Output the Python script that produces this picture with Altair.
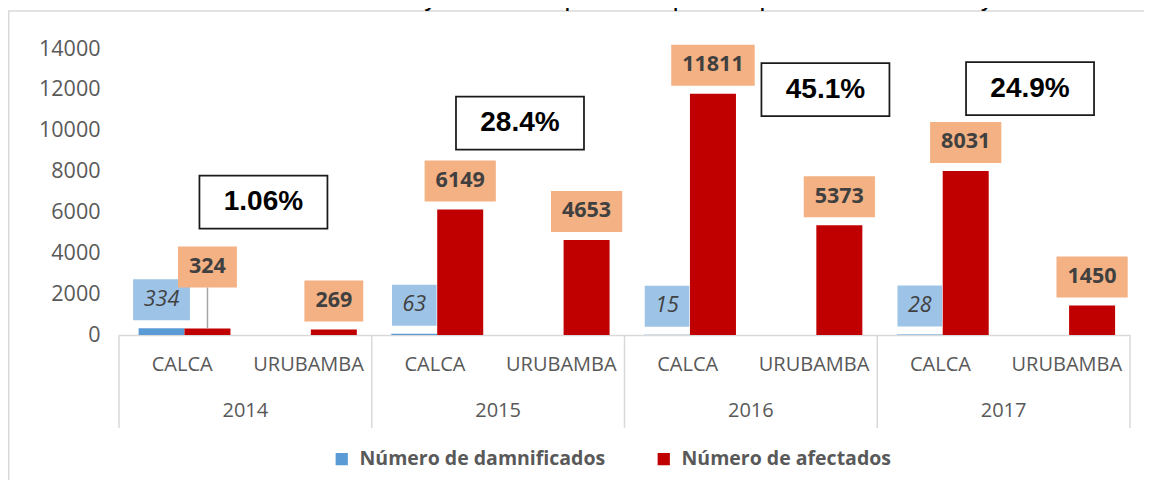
import altair as alt
import pandas as pd

# ---------------- data ----------------
years = ["2014", "2015", "2016", "2017"]
provinces = ["CALCA", "URUBAMBA"]
series = ["Número de damnificados", "Número de afectados"]
# one value per (year, province), in order 2014-CALCA, 2014-URUBAMBA, ...
damnificados = [334, None, 63, None, 15, None, 28, None]
afectados = [324, 269, 6149, 4653, 11811, 5373, 8031, 1450]
porcentajes = ["1.06%", "28.4%", "45.1%", "24.9%"]
y_ticks = [0, 2000, 4000, 6000, 8000, 10000, 12000, 14000]
title_lead = "Gráfico 3:"
title_text = "Número de damnificados y afectados por años para la provincia de Calca y Urubamba."

# ---------------- layout / style ----------------
W, H = 1011, 286
YMAX = 14000
NSLOT = len(years) * len(provinces)
UX = NSLOT / W          # x data units per pixel
UY = YMAX / H           # y data units per pixel
BLUE, RED = "#5B9BD5", "#C00000"
BLUE_LBL, RED_LBL = "#9DC3E6", "#F4B183"
TXT = "#404040"
AX = "#595959"
GRID = "#D9D9D9"
BLUE_X = (0.155, 0.518)
RED_X = (0.518, 0.882)
LBL_H = 41
LBL_GAP = 8
DIGIT_W = 12.3
raise_px = {0: 33}                       # 2014 CALCA afectados label lifted
pct_center_slot = [1.143, 3.173, 5.59, 7.209]   # annotation box placement
pct_center_px_from_top = [153, 74, 40.5, 39.5]
PCT_W, PCT_H = 128, 53

xs = alt.Scale(domain=[0, NSLOT], nice=False, zero=False)
ys = alt.Scale(domain=[0, YMAX], nice=False)
xa = alt.Axis(labels=False, ticks=False, grid=False, title=None, domainColor=GRID, domainWidth=1.5)
ya = alt.Axis(values=y_ticks, format="d", grid=False, domain=False, ticks=False, title=None,
              labelPadding=19, labelFont="Open Sans", labelFontSize=21.5, labelColor=AX)

# ---------------- frames ----------------
bar_rows, red_rows, blue_rows, lead_rows, cat_rows = [], [], [], [], []
for j, yr in enumerate(years):
    for k, pv in enumerate(provinces):
        i = j * len(provinces) + k
        cat_rows.append(dict(cx=i + 0.5, province=pv))
        d, a = damnificados[i], afectados[i]
        if d is not None:
            bar_rows.append(dict(series=series[0], value=d, base=0, x0=i + BLUE_X[0], x1=i + BLUE_X[1]))
            w = (DIGIT_W * len(str(d)) + 20) / 2 * UX
            cx = i + (BLUE_X[0] + BLUE_X[1]) / 2
            y0 = d + LBL_GAP * UY
            blue_rows.append(dict(label=str(d), cx=cx, bx0=cx - w, bx1=cx + w,
                                  by0=y0, by1=y0 + LBL_H * UY, ty=y0 + LBL_H / 2 * UY))
        bar_rows.append(dict(series=series[1], value=a, base=0, x0=i + RED_X[0], x1=i + RED_X[1]))
        w = (DIGIT_W * len(str(a)) + 22) / 2 * UX
        cx = i + (RED_X[0] + RED_X[1]) / 2
        y0 = a + (LBL_GAP + raise_px.get(i, 0)) * UY
        red_rows.append(dict(label=str(a), cx=cx, bx0=cx - w, bx1=cx + w,
                             by0=y0, by1=y0 + LBL_H * UY, ty=y0 + LBL_H / 2 * UY))
        if raise_px.get(i, 0):
            lead_rows.append(dict(cx=cx, y0=a, y1=y0))

bars_df = pd.DataFrame(bar_rows)
red_df = pd.DataFrame(red_rows)
blue_df = pd.DataFrame(blue_rows)
lead_df = pd.DataFrame(lead_rows)
cat_df = pd.DataFrame(cat_rows)
year_df = pd.DataFrame(dict(year=years, cx=[j * 2 + 1 for j in range(len(years))]))
div_df = pd.DataFrame(dict(x=[j * 2 for j in range(len(years) + 1)]))
pct_df = pd.DataFrame(dict(
    label=porcentajes,
    cx=pct_center_slot,
    cy=[(H - p) * UY for p in pct_center_px_from_top],
))
pct_df["bx0"] = pct_df.cx - PCT_W / 2 * UX
pct_df["bx1"] = pct_df.cx + PCT_W / 2 * UX
pct_df["by0"] = pct_df.cy - PCT_H / 2 * UY
pct_df["by1"] = pct_df.cy + PCT_H / 2 * UY

# ---------------- layers ----------------
frame = alt.Chart(pd.DataFrame({"k": [0]})).mark_rect(
    filled=False, stroke=GRID, strokeWidth=1.5
).encode(x=alt.value(-110.25), x2=alt.value(W + 40), y=alt.value(-38), y2=alt.value(H + 200))

title_a = alt.Chart(pd.DataFrame({"t": [title_lead]})).mark_text(
    font="Liberation Sans", fontSize=26, fontStyle="italic", align="right", baseline="alphabetic", color="black"
).encode(text="t:N", x=alt.value(2), y=alt.value(-43))
title_b = alt.Chart(pd.DataFrame({"t": [title_text]})).mark_text(
    font="Liberation Sans", fontSize=26, align="left", baseline="alphabetic", color="black"
).encode(text="t:N", x=alt.value(9), y=alt.value(-43))

bars = alt.Chart(bars_df).mark_bar().encode(
    x=alt.X("x0:Q", scale=xs, axis=xa),
    x2="x1:Q",
    y=alt.Y("value:Q", scale=ys, axis=ya),
    y2="base:Q",
    color=alt.Color("series:N", scale=alt.Scale(domain=series, range=[BLUE, RED]),
                    legend=alt.Legend(orient="none", legendX=213, legendY=400, direction="horizontal",
                                      title=None, symbolType="square", symbolSize=150,
                                      symbolStrokeWidth=0, labelFont="Open Sans", labelFontWeight="bold",
                                      labelFontSize=19.5, labelColor=AX, labelOffset=8, labelLimit=500,
                                      columnPadding=48, padding=0)),
)

lead = alt.Chart(lead_df).mark_rule(color="#A6A6A6", strokeWidth=1.5).encode(
    x=alt.X("cx:Q", scale=xs, axis=xa), y=alt.Y("y0:Q", scale=ys, axis=ya), y2="y1:Q")


def label_layer(df, fill, style, weight):
    box = alt.Chart(df).mark_rect(fill=fill).encode(
        x=alt.X("bx0:Q", scale=xs, axis=xa), x2="bx1:Q",
        y=alt.Y("by0:Q", scale=ys, axis=ya), y2="by1:Q")
    txt = alt.Chart(df).mark_text(font="Open Sans", fontSize=21.5, fontStyle=style, fontWeight=weight,
                                  color=TXT, baseline="middle", align="center").encode(
        x=alt.X("cx:Q", scale=xs, axis=xa), y=alt.Y("ty:Q", scale=ys, axis=ya), text="label:N")
    return box + txt


blue_lbl = label_layer(blue_df, BLUE_LBL, "italic", "normal")
red_lbl = label_layer(red_df, RED_LBL, "normal", "bold")

pct_box = alt.Chart(pct_df).mark_rect(fill="white", stroke="#1A1A1A", strokeWidth=1.75).encode(
    x=alt.X("bx0:Q", scale=xs, axis=xa), x2="bx1:Q",
    y=alt.Y("by0:Q", scale=ys, axis=ya), y2="by1:Q")
pct_txt = alt.Chart(pct_df).mark_text(font="Liberation Sans", fontSize=28, fontWeight="bold",
                                      color="black", baseline="middle", align="center").encode(
    x=alt.X("cx:Q", scale=xs, axis=xa), y=alt.Y("cy:Q", scale=ys, axis=ya), text="label:N")

dividers = alt.Chart(div_df).mark_rule(color=GRID, strokeWidth=1.5).encode(
    x=alt.X("x:Q", scale=xs, axis=xa), y=alt.value(H), y2=alt.value(H + 93))
prov_txt = alt.Chart(cat_df).mark_text(font="Open Sans", fontSize=20, color=AX, baseline="middle").encode(
    x=alt.X("cx:Q", scale=xs, axis=xa), y=alt.value(H + 30), text="province:N")
year_txt = alt.Chart(year_df).mark_text(font="Open Sans", fontSize=20, color=AX, baseline="middle").encode(
    x=alt.X("cx:Q", scale=xs, axis=xa), y=alt.value(H + 76), text="year:N")

chart = alt.layer(
    frame, title_a, title_b, bars, lead, blue_lbl, red_lbl, pct_box, pct_txt, dividers, prov_txt, year_txt
).properties(
    width=W, height=H,
    autosize=alt.AutoSizeParams(type="none"),
    padding={"left": 111, "top": 41, "right": 14, "bottom": 145},
    background="white",
).configure_view(stroke=None)

chart.save("out.html", embed_options={"renderer": "svg", "actions": False})
